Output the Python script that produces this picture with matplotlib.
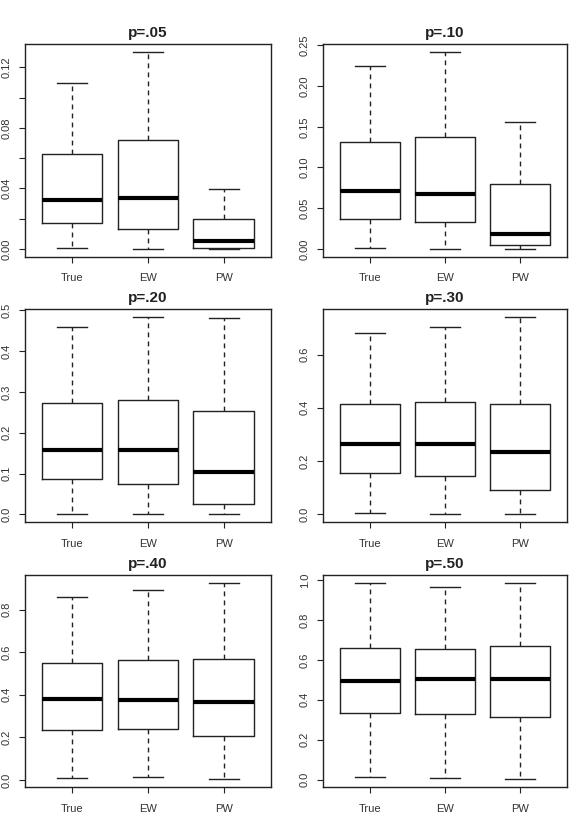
import matplotlib
matplotlib.use("Agg")
import matplotlib.pyplot as plt
import numpy as np

plt.rcParams['font.family'] = ['Liberation Sans', 'DejaVu Sans']

groups = ["True", "EW", "PW"]
titles = ["p=.05", "p=.10", "p=.20", "p=.30", "p=.40", "p=.50"]

# per panel: [whislo, q1, median, q3, whishi] for True, EW, PW
p05 = [[0.0004, 0.0172, 0.0326, 0.0630, 0.1099],
       [0.0000, 0.0132, 0.0337, 0.0718, 0.1300],
       [0.0000, 0.0007, 0.0050, 0.0200, 0.0394]]
p10 = [[0.0008, 0.0369, 0.0705, 0.1307, 0.2245],
       [0.0000, 0.0328, 0.0672, 0.1372, 0.2417],
       [0.0000, 0.0049, 0.0184, 0.0799, 0.1557]]
p20 = [[0.0016, 0.0877, 0.1588, 0.2735, 0.4590],
       [0.0016, 0.0745, 0.1570, 0.2790, 0.4830],
       [0.0000, 0.0246, 0.1040, 0.2529, 0.4820]]
p30 = [[0.0040, 0.1540, 0.2645, 0.4160, 0.6790],
       [0.0010, 0.1440, 0.2645, 0.4223, 0.7025],
       [0.0000, 0.0930, 0.2355, 0.4160, 0.7400]]
p40 = [[0.0090, 0.2370, 0.3790, 0.5470, 0.8590],
       [0.0125, 0.2390, 0.3760, 0.5630, 0.8910],
       [0.0030, 0.2090, 0.3670, 0.5680, 0.9250]]
p50 = [[0.0150, 0.3340, 0.4960, 0.6600, 0.9850],
       [0.0100, 0.3270, 0.5020, 0.6540, 0.9630],
       [0.0017, 0.3125, 0.5020, 0.6670, 0.9850]]
panels = [p05, p10, p20, p30, p40, p50]

tick_step = [0.02, 0.05, 0.1, 0.2, 0.2, 0.2]
label_every = [2, 1, 1, 1, 1, 1]
tick_fmt = ["{:.2f}", "{:.2f}", "{:.1f}", "{:.1f}", "{:.1f}", "{:.1f}"]

W, H = 576, 822
fig = plt.figure(figsize=(W / 100, H / 100), dpi=100)

col_lr = [(25, 270.7), (323, 566.7)]
row_tb = [(44.3, 256.7), (309.3, 522.3), (575, 787.3)]

lc = "#222222"
for i, (stats_list, title) in enumerate(zip(panels, titles)):
    r, c = divmod(i, 2)
    l, rr = col_lr[c]
    t, b = row_tb[r]
    ax = fig.add_axes([l / W, 1 - b / H, (rr - l) / W, (b - t) / H])
    stats = []
    for g, s in zip(groups, stats_list):
        stats.append(dict(label=g, whislo=s[0], q1=s[1], med=s[2], q3=s[3], whishi=s[4]))
    ax.bxp(stats, positions=[1, 2, 3], widths=0.8, capwidths=0.4,
           showfliers=False,
           boxprops=dict(color=lc, linewidth=1.0),
           whiskerprops=dict(color=lc, linewidth=1.0, linestyle=(0, (3.5, 3))),
           capprops=dict(color=lc, linewidth=1.0),
           medianprops=dict(color="black", linewidth=3.0, solid_capstyle="butt"))
    lo = min(s[0] for s in stats_list)
    hi = max(s[4] for s in stats_list)
    rng = hi - lo
    y0, y1 = lo - 0.04 * rng, hi + 0.04 * rng
    ax.set_ylim(y0, y1)
    ax.set_xlim(0.38, 3.62)
    step = tick_step[i]
    ticks = np.arange(0, y1 + 1e-9, step)
    ax.set_yticks(ticks)
    labs = [tick_fmt[i].format(v) if (k % label_every[i] == 0) else "" for k, v in enumerate(ticks)]
    ax.set_yticklabels(labs, rotation=90, va="center")
    ax.set_xticks([1, 2, 3])
    ax.set_xticklabels(groups)
    ax.tick_params(axis="both", length=4.0, width=0.8, color=lc, labelsize=8, labelcolor="#333333")
    ax.tick_params(axis="y", pad=5.5)
    ax.tick_params(axis="x", pad=8.0)
    for sp in ax.spines.values():
        sp.set_color(lc)
        sp.set_linewidth(1.0)
    ax.set_title(title, fontsize=11, fontweight="bold", pad=5.0, color="#222222")

fig.savefig("out.png", dpi=100)
